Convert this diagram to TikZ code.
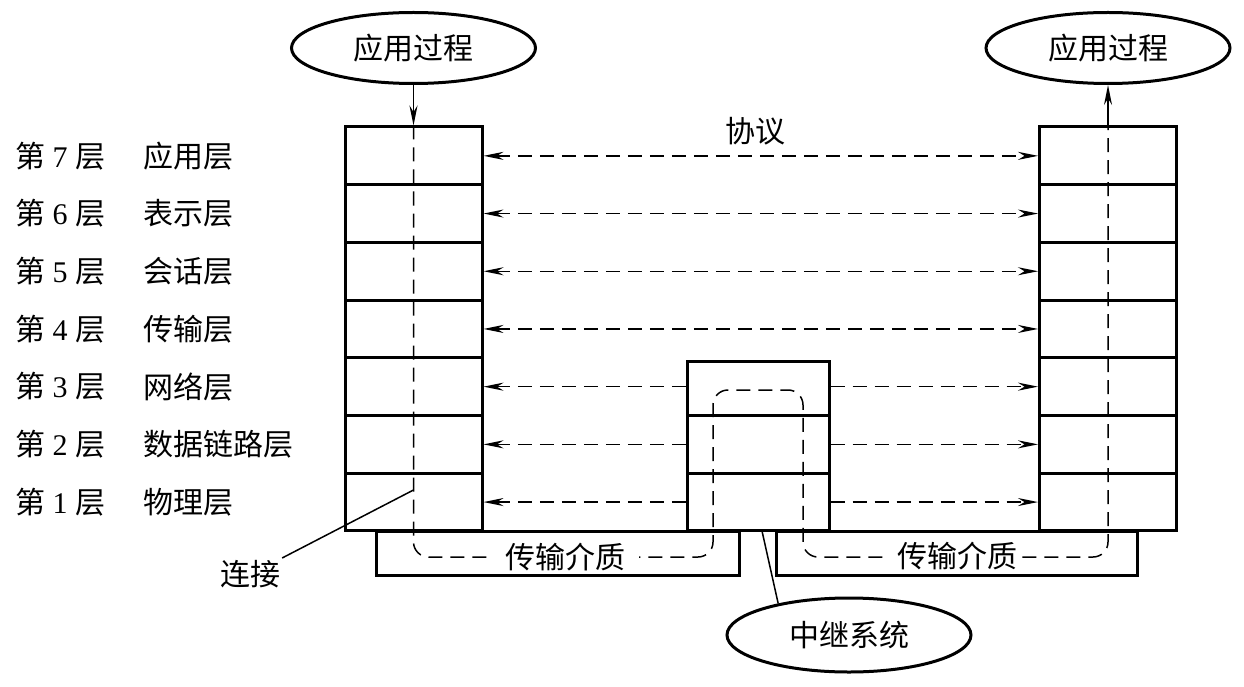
\documentclass[tikz,border=0pt]{standalone}
\usepackage{fontspec}
\setmainfont{Liberation Serif}
\newfontfamily\cjk{Noto Sans CJK SC}
\usetikzlibrary{arrows.meta,shapes.geometric}
\newcommand{\osfont}{\fontsize{30}{34}\selectfont}
\tikzset{
  oscell/.style={draw=black, line width=3pt, minimum width=137pt, minimum height=57.7pt, inner sep=0pt},
  osrelay/.style={oscell, minimum width=142pt},
  osmedium/.style={draw=black, line width=3pt, minimum height=44pt, inner sep=0pt},
  osoval/.style={ellipse, draw=black, line width=3pt, minimum width=244pt, minimum height=71pt, inner sep=0pt, font=\osfont\cjk},
  osflow/.style={line width=1.5pt, draw=black, dash pattern=on 14pt off 8pt, rounded corners=15pt},
  osproto/.style={line width=1.5pt, draw=black, dash pattern=on 14pt off 8pt},
  osthin/.style={line width=1.5pt, draw=black},
  ostext/.style={font=\osfont\cjk, inner sep=2pt},
  oslayer/.style={font=\osfont, anchor=west, inner sep=0pt},
  ostip/.style={-{Stealth[length=20pt,width=8pt]}},
  ostipl/.style={{Stealth[length=20pt,width=8pt]}-},
  ostips/.style={{Stealth[length=20pt,width=8pt]}-{Stealth[length=20pt,width=8pt]}},
}
\begin{document}
\begin{tikzpicture}[x=1pt,y=-1pt]
\useasboundingbox (0,0) rectangle (1244,687);
% the two end stacks and the layer names
\foreach \k/\y/\name in {7/155.85/应用层, 6/213.55/表示层, 5/271.25/会话层, 4/328.95/传输层,
    3/386.65/网络层, 2/444.35/数据链路层, 1/502.05/物理层}{
  \node[oscell] (L\k) at (413.5,\y) {};
  \node[oscell] (R\k) at (1108,\y) {};
  \node[oslayer] (n\k) at (15,\y) {{\cjk 第} \k{} {\cjk 层}};
  \node[oslayer] (t\k) at (143,\y) {\cjk \name};
}
% relay system
\node[osrelay, minimum height=54.5pt] (M3) at (758,388.25) {};
\foreach \k/\y in {2/444.35, 1/502.05}
  \node[osrelay] (M\k) at (758,\y) {};
\node[osmedium, minimum width=363pt] (medL) at (557.5,553) {};
\node[osmedium, minimum width=361pt] (medR) at (956.5,553) {};
% peer protocols
\foreach \k in {7,6,5,4}
  \draw[osproto, ostips] (L\k) -- (R\k);
\foreach \k in {3,2,1}{
  \draw[osproto, ostipl] (L\k) -- (M\k.west |- L\k);
  \draw[osproto, ostip] (M\k.east |- R\k) -- (R\k);
}
\node[ostext] (proto) at (755,131) {协议};
% data path
\draw[osflow] (L7.north) -- (413.5,557) -- (713,557) -- (713,390) -- (803,390)
  -- (803,557) -- (1108,557) -- (R7.north);
\node[ostext, fill=white, inner xsep=14pt] (medLt) at (565,557) {传输介质};
\node[ostext, fill=white, inner sep=1pt] (medRt) at (951,556) {\hspace{12pt}传输介质};
\node[osoval] (appL) at (413.5,48) {应用过程};
\node[osoval] (appR) at (1108,48) {应用过程};
\draw[osthin, ostip] (appL.south) -- (L7.north);
\draw[osthin, ostip] (R7.north) -- (appR.south);
% callouts
\coordinate (tap) at (413.5,490);
\coordinate (gap) at (762,531);
\node[ostext] (conn) at (250,574) {连接};
\draw[osthin] (conn.north east) -- (tap);
\node[osoval, minimum height=74pt] (relay) at (849,635) {中继系统};
\draw[osthin] (relay.156) -- (gap);
\end{tikzpicture}
\end{document}
